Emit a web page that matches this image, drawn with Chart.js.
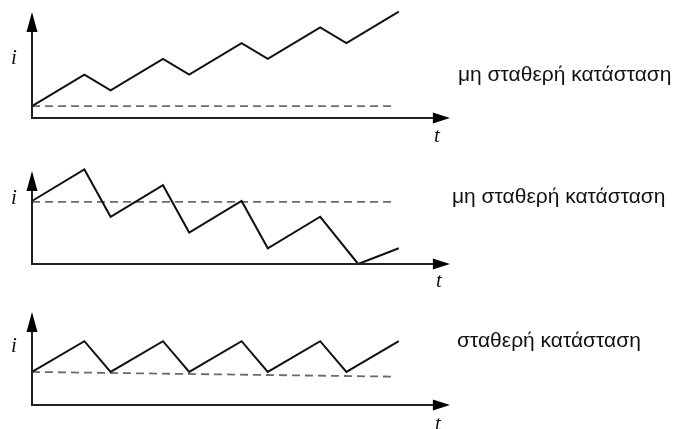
<!DOCTYPE html>
<html>
<head>
<meta charset="utf-8">
<script src="https://cdn.jsdelivr.net/npm/chart.js@4.4.1/dist/chart.umd.min.js"></script>
<style>
  html, body { margin: 0; padding: 0; background: #fff; }
  #wrap { position: relative; width: 678px; height: 429px; overflow: hidden; }
  canvas.panel { position: absolute; left: 0; }
  .lbl { position: absolute; font-family: "Liberation Sans", Arial, sans-serif; font-size: 21px; line-height: 21px; color: #111; white-space: nowrap; }
  .sym { position: absolute; font-family: "Liberation Serif", "Times New Roman", serif; font-style: italic; font-size: 21px; line-height: 21px; color: #111; }
</style>
</head>
<body>
<div id="wrap">
  <canvas id="p1" class="panel"></canvas>
  <canvas id="p2" class="panel"></canvas>
  <canvas id="p3" class="panel"></canvas>

  <div class="lbl" style="left:458px; top:63px;">μη σταθερή κατάσταση</div>
  <div class="lbl" style="left:452px; top:185px;">μη σταθερή κατάσταση</div>
  <div class="lbl" style="left:457px; top:329px;">σταθερή κατάσταση</div>

  <div class="sym" style="left:11px; top:47px;">i</div>
  <div class="sym" style="left:11px; top:187px;">i</div>
  <div class="sym" style="left:11px; top:335px;">i</div>
  <div class="sym" style="left:434px; top:125px;">t</div>
  <div class="sym" style="left:436px; top:270px;">t</div>
  <div class="sym" style="left:435px; top:413px;">t</div>
</div>

<script>
// Time instants of the current's turning points (same for all three panels,
// except the falling case which touches zero a little before t = 12.5)
const tRising   = [0, 2, 3, 5, 6, 8, 9, 11, 12, 14];
const tFalling  = [0, 2, 3, 5, 6, 8, 9, 11, 12.45, 14];
const tSteady   = [0, 2, 3, 5, 6, 8, 9, 11, 12, 14];

// Current values at those instants
const iRising   = [0.75, 2.75, 1.75, 3.75, 2.75, 4.75, 3.75, 5.75, 4.75, 6.75];
const iFalling  = [4, 6, 3, 5, 2, 4, 1, 3, 0, 1];
const iSteady   = [2.1, 4.05, 2.1, 4.05, 2.1, 4.05, 2.1, 4.05, 2.1, 4.05];

// Dashed reference level (start and end of the dashed line)
const tRef      = [0, 13.8];
const refRising  = [0.75, 0.75];
const refFalling = [3.95, 3.95];
const refSteady  = [2.1, 1.8];

// Layout of the three panels (pixels)
const W = 678;
const PANEL_H = 143;
const X_MAX = 16;          // t range of each panel
const PX_PER_T = 26.2;
const PX_PER_I = 15.75;
const LEFT = 32;

const panels = [
  { id: 'p1', top: 0,   base: 118, yTip: 6.73, t: tRising,  i: iRising,  ref: refRising },
  { id: 'p2', top: 143, base: 121, yTip: 5.9,  t: tFalling, i: iFalling, ref: refFalling },
  { id: 'p3', top: 286, base: 119, yTip: 5.9,  t: tSteady,  i: iSteady,  ref: refSteady }
];

const X_TIP = 15.95;

// Axes with arrowheads, placed through the chart's own scales
const arrowAxes = {
  id: 'arrowAxes',
  afterDatasetsDraw(chart, args, opts) {
    const { ctx, scales: { x, y } } = chart;
    const x0 = x.getPixelForValue(0);
    const y0 = y.getPixelForValue(0);
    const xTip = x.getPixelForValue(opts.xTip);
    const yTip = y.getPixelForValue(opts.yTip);
    ctx.save();
    ctx.strokeStyle = '#222';
    ctx.fillStyle = '#000';
    ctx.lineWidth = 2;
    ctx.lineCap = 'butt';
    // vertical axis
    ctx.beginPath();
    ctx.moveTo(x0, y0 + 1);
    ctx.lineTo(x0, yTip + 12);
    ctx.stroke();
    // horizontal axis
    ctx.beginPath();
    ctx.moveTo(x0 - 1, y0);
    ctx.lineTo(xTip - 12, y0);
    ctx.stroke();
    // arrowheads
    ctx.beginPath();
    ctx.moveTo(x0, yTip);
    ctx.lineTo(x0 - 5.5, yTip + 20);
    ctx.lineTo(x0 + 5.5, yTip + 20);
    ctx.closePath();
    ctx.fill();
    ctx.beginPath();
    ctx.moveTo(xTip, y0);
    ctx.lineTo(xTip - 17, y0 - 5.5);
    ctx.lineTo(xTip - 17, y0 + 5.5);
    ctx.closePath();
    ctx.fill();
    ctx.restore();
  }
};

panels.forEach(p => {
  const canvas = document.getElementById(p.id);
  canvas.style.top = p.top + 'px';
  canvas.style.width = W + 'px';
  canvas.style.height = PANEL_H + 'px';
  canvas.width = W;
  canvas.height = PANEL_H;

  const rightPad = W - (LEFT + X_MAX * PX_PER_T);
  const yMax = p.base / PX_PER_I;

  new Chart(canvas, {
    type: 'scatter',
    data: {
      datasets: [
        {
          data: p.t.map((t, k) => ({ x: t, y: p.i[k] })),
          showLine: true,
          borderColor: '#111',
          borderWidth: 2,
          pointRadius: 0,
          tension: 0,
          order: 1
        },
        {
          data: tRef.map((t, k) => ({ x: t, y: p.ref[k] })),
          showLine: true,
          borderColor: '#6a6a6a',
          borderWidth: 1.8,
          borderDash: [8, 5],
          pointRadius: 0,
          order: 2
        }
      ]
    },
    options: {
      responsive: false,
      animation: false,
      events: [],
      clip: false,
      layout: { padding: { left: LEFT, right: rightPad, top: 0, bottom: PANEL_H - p.base } },
      plugins: {
        legend: { display: false },
        tooltip: { enabled: false },
        arrowAxes: { xTip: X_TIP, yTip: p.yTip }
      },
      scales: {
        x: { type: 'linear', min: 0, max: X_MAX, display: false },
        y: { type: 'linear', min: 0, max: yMax, display: false }
      }
    },
    plugins: [arrowAxes]
  });
});
</script>
</body>
</html>
